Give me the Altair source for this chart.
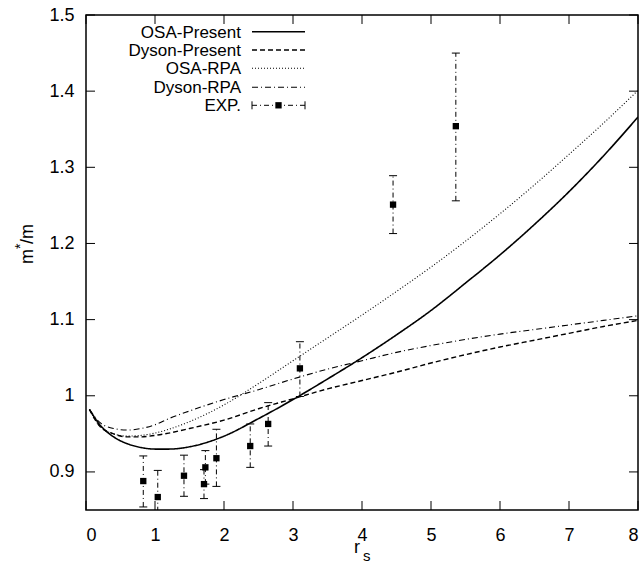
import altair as alt
import pandas as pd

# ---- data ----
rs_grid = [0.05, 0.2, 0.4, 0.6, 0.8, 1.0, 1.2, 1.5, 2.0, 2.5, 3.0, 3.5, 4.0,
           4.5, 5.0, 5.5, 6.0, 6.5, 7.0, 7.5, 8.0]
osa_present = [0.982, 0.962, 0.946, 0.937, 0.932, 0.930, 0.930, 0.933, 0.947,
               0.970, 0.995, 1.022, 1.050, 1.080, 1.112, 1.148, 1.185, 1.225,
               1.268, 1.315, 1.366]
dyson_present = [0.982, 0.960, 0.950, 0.946, 0.946, 0.948, 0.951, 0.957, 0.968,
                 0.983, 0.996, 1.009, 1.020, 1.031, 1.043, 1.054, 1.064, 1.073,
                 1.082, 1.091, 1.099]
osa_rpa = [0.982, 0.960, 0.950, 0.947, 0.948, 0.951, 0.956, 0.966, 0.988,
           1.016, 1.046, 1.076, 1.106, 1.137, 1.169, 1.203, 1.239, 1.277,
           1.317, 1.358, 1.401]
dyson_rpa = [0.982, 0.965, 0.957, 0.955, 0.957, 0.962, 0.970, 0.980, 0.995,
             1.008, 1.022, 1.035, 1.046, 1.057, 1.066, 1.074, 1.081, 1.087,
             1.093, 1.099, 1.105]

exp_rs = [0.83, 1.04, 1.42, 1.71, 1.73, 1.89, 2.38, 2.64, 3.10, 4.45, 5.36]
exp_m = [0.888, 0.867, 0.895, 0.884, 0.906, 0.918, 0.934, 0.963, 1.036, 1.251, 1.354]
exp_lo = [0.854, 0.832, 0.868, 0.865, 0.884, 0.881, 0.906, 0.934, 0.999, 1.213, 1.256]
exp_hi = [0.921, 0.902, 0.922, 0.903, 0.928, 0.956, 0.963, 0.991, 1.071, 1.289, 1.450]

series_names = ["OSA-Present", "Dyson-Present", "OSA-RPA", "Dyson-RPA"]
series_values = [osa_present, dyson_present, osa_rpa, dyson_rpa]
series_dash = [[1, 0], [5, 3], [1, 2], [6, 3, 1, 3]]
series_width = [1.6, 1.4, 1.1, 1.1]

x_ticks = [0, 1, 2, 3, 4, 5, 6, 7, 8]
y_ticks = [0.9, 1.0, 1.1, 1.2, 1.3, 1.4, 1.5]

W, H = 552, 495
FONT = "Liberation Sans"
FS = 18

xscale = alt.Scale(domain=[0, 8], nice=False, zero=False)
yscale = alt.Scale(domain=[0.85, 1.5], nice=False, zero=False)
xaxis = alt.Axis(values=x_ticks, format="d", ticks=False, domain=False, grid=False,
                 labelPadding=16, labelFont=FONT, labelFontSize=FS, labelColor="black",
                 title=None)
yaxis = alt.Axis(values=y_ticks, format=".1~f", ticks=False, domain=False, grid=False,
                 labelPadding=12, labelFont=FONT, labelFontSize=FS, labelColor="black",
                 title=None)


def X(f):
    return alt.X(f, type="quantitative", scale=xscale, axis=xaxis, title=None)


def Y(f):
    return alt.Y(f, type="quantitative", scale=yscale, axis=yaxis, title=None)


one = pd.DataFrame({"a": [0]})
layers = []

# curves
for name, vals, dash, sw in zip(series_names, series_values, series_dash, series_width):
    df = pd.DataFrame({"rs": rs_grid, "m": vals})
    layers.append(
        alt.Chart(df).mark_line(color="black", strokeDash=dash, strokeWidth=sw,
                                interpolate="monotone", clip=True)
        .encode(x=X("rs"), y=Y("m"))
    )

# experimental points
exp_df = pd.DataFrame({"rs": exp_rs, "m": exp_m, "lo": exp_lo, "hi": exp_hi})
layers.append(
    alt.Chart(exp_df).mark_rule(color="black", strokeDash=[5, 3, 1, 3], strokeWidth=1, clip=True)
    .encode(x=X("rs"), y=Y("lo"), y2=alt.Y2("hi"))
)
for f in ["lo", "hi"]:
    layers.append(
        alt.Chart(exp_df).mark_tick(color="black", orient="horizontal", size=8,
                                    thickness=1, clip=True, opacity=1)
        .encode(x=X("rs"), y=Y(f))
    )
layers.append(
    alt.Chart(exp_df).mark_square(color="black", size=40, filled=True, opacity=1, clip=True)
    .encode(x=X("rs"), y=Y("m"))
)

# inward ticks on all four sides
xt = pd.DataFrame({"v": x_ticks})
yt = pd.DataFrame({"v": y_ticks})
layers.append(alt.Chart(xt).mark_rule(color="black", strokeWidth=1)
              .encode(x=X("v"), y=alt.value(H), y2=alt.value(H - 9)))
layers.append(alt.Chart(xt).mark_rule(color="black", strokeWidth=1)
              .encode(x=X("v"), y=alt.value(0), y2=alt.value(9)))
layers.append(alt.Chart(yt).mark_rule(color="black", strokeWidth=1)
              .encode(y=Y("v"), x=alt.value(0), x2=alt.value(9)))
layers.append(alt.Chart(yt).mark_rule(color="black", strokeWidth=1)
              .encode(y=Y("v"), x=alt.value(W), x2=alt.value(W - 9)))

# legend (gnuplot style: label right-aligned, sample to the right)
LFS = 17
leg_y = [16.7, 35.0, 53.3, 72.3, 90.3]
lx_text, lx0, lx1 = 155, 166, 219
for i, name in enumerate(series_names):
    layers.append(alt.Chart(one).mark_text(text=name, align="right", baseline="middle",
                                           font=FONT, fontSize=LFS, color="black")
                  .encode(x=alt.value(lx_text), y=alt.value(leg_y[i] + 1)))
    layers.append(alt.Chart(one).mark_rule(color="black", strokeDash=series_dash[i],
                                           strokeWidth=series_width[i])
                  .encode(x=alt.value(lx0), x2=alt.value(lx1), y=alt.value(leg_y[i])))
ey = leg_y[4]
layers.append(alt.Chart(one).mark_text(text="EXP.", align="right", baseline="middle",
                                       font=FONT, fontSize=LFS, color="black")
              .encode(x=alt.value(lx_text), y=alt.value(ey + 1)))
layers.append(alt.Chart(one).mark_rule(color="black", strokeDash=[5, 3, 1, 3], strokeWidth=1)
              .encode(x=alt.value(lx0), x2=alt.value(lx1), y=alt.value(ey)))
for cx in [lx0, lx1]:
    layers.append(alt.Chart(one).mark_rule(color="black", strokeWidth=1)
                  .encode(x=alt.value(cx), y=alt.value(ey - 4), y2=alt.value(ey + 4)))
layers.append(alt.Chart(one).mark_square(color="black", size=40, filled=True, opacity=1)
              .encode(x=alt.value((lx0 + lx1) / 2), y=alt.value(ey)))

# axis titles: r_s and m*/m
layers.append(alt.Chart(one).mark_text(text="r", align="left", baseline="alphabetic",
                                       font=FONT, fontSize=FS, color="black")
              .encode(x=alt.value(268), y=alt.value(538)))
layers.append(alt.Chart(one).mark_text(text="s", align="left", baseline="alphabetic",
                                       font=FONT, fontSize=15, color="black")
              .encode(x=alt.value(277), y=alt.value(546)))
layers.append(alt.Chart(one).mark_text(text="m", align="left", baseline="alphabetic", angle=270,
                                       font=FONT, fontSize=FS, color="black")
              .encode(x=alt.value(-53), y=alt.value(249)))
layers.append(alt.Chart(one).mark_text(text="*", align="left", baseline="alphabetic", angle=270,
                                       font=FONT, fontSize=14, color="black")
              .encode(x=alt.value(-61), y=alt.value(234)))
layers.append(alt.Chart(one).mark_text(text="/m", align="left", baseline="alphabetic", angle=270,
                                       font=FONT, fontSize=FS, color="black")
              .encode(x=alt.value(-53), y=alt.value(229)))

chart = (
    alt.layer(*layers)
    .properties(width=W, height=H, autosize=alt.AutoSizeParams(type="none"),
                padding={"left": 86, "top": 15, "right": 2, "bottom": 53},
                background="white")
    .configure_view(stroke="black", strokeWidth=1.5)
)

chart.save("out.html", embed_options={"renderer": "svg", "actions": False})
